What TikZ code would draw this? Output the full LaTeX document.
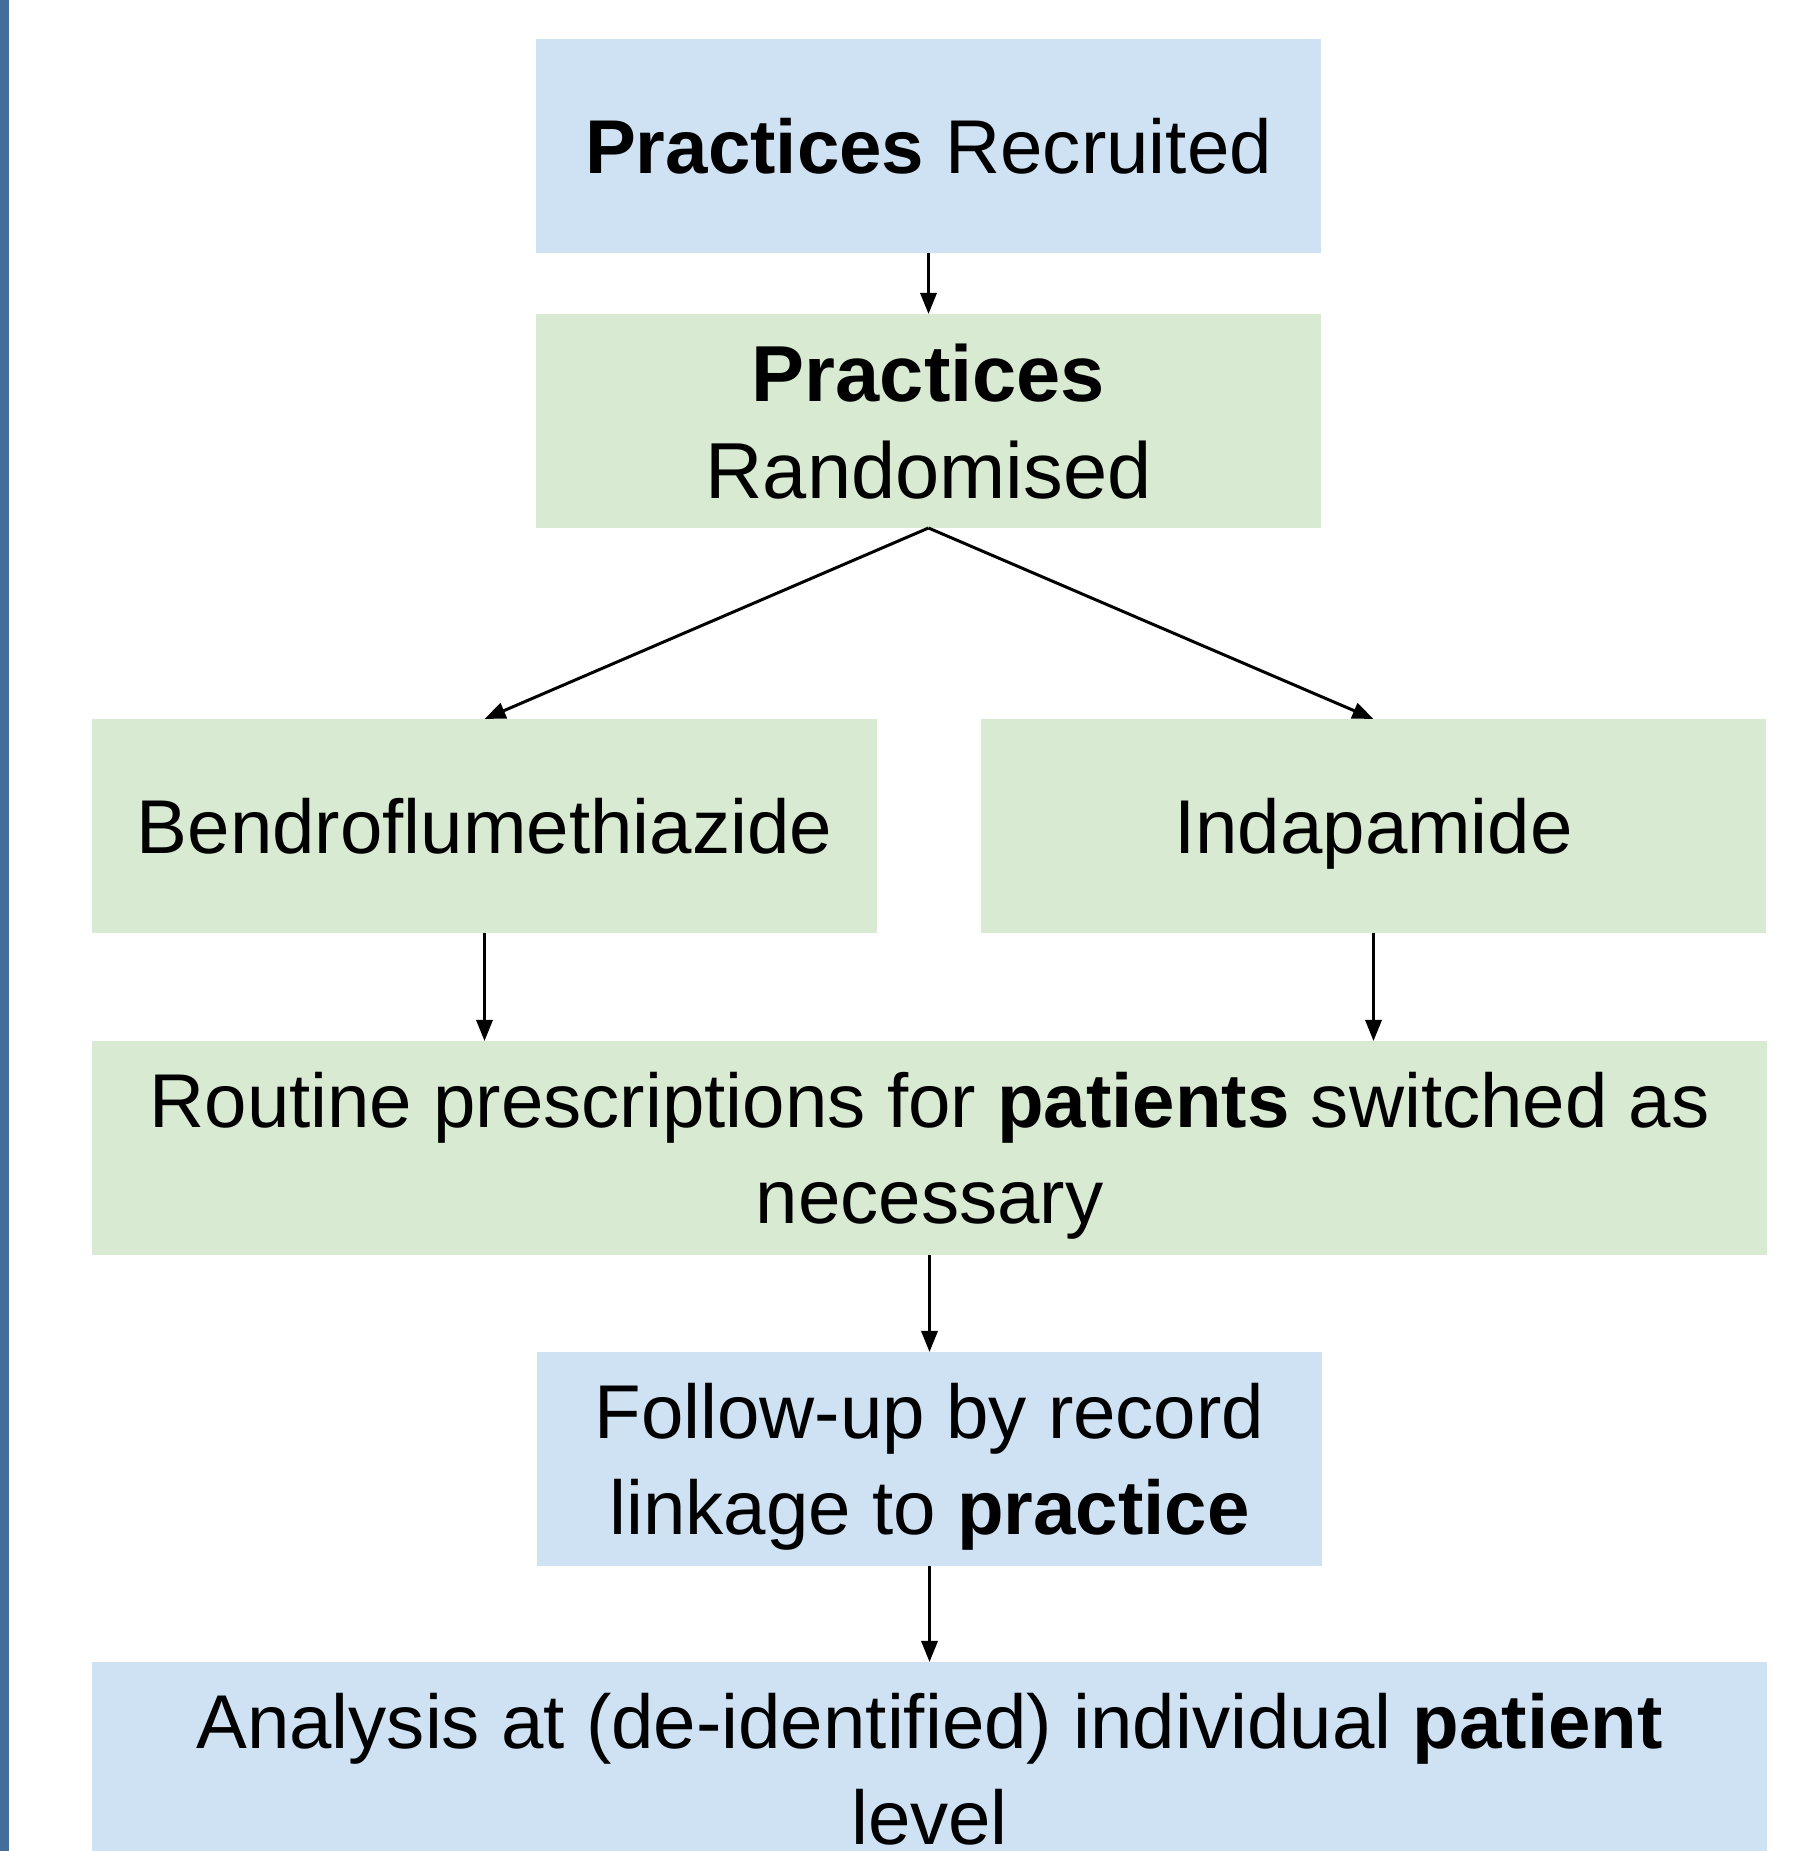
\documentclass[tikz,border=0pt]{standalone}
\usepackage{fontspec}
\setmainfont{Liberation Sans}
\usetikzlibrary{positioning,arrows.meta}

\definecolor{boxblue}{HTML}{CFE2F3}
\definecolor{boxgreen}{HTML}{D9EAD3}
\definecolor{sidebar}{RGB}{68,109,155}

\begin{document}
\begin{tikzpicture}[
	every node/.style={inner sep=0pt,outer sep=0pt,align=center,text depth=0pt,
		font=\fontsize{21.7}{27.5}\selectfont},
	bluebox/.style={fill=boxblue,minimum width=7.85cm,minimum height=2.14cm},
	greenbox/.style={fill=boxgreen,minimum width=7.85cm,minimum height=2.14cm},
	wide/.style={minimum width=16.75cm},
	link/.style={-{Triangle[length=6pt,width=4.6pt]},line width=0.85pt}]

	\useasboundingbox (0,0) rectangle (18.11,-18.51);
	\clip (0,0) rectangle (18.11,-18.51);
	\fill[sidebar] (0,0) rectangle (0.09,-18.51);

	\node[bluebox] (rec) at (9.285,-1.46) {\textbf{Practices} Recruited};
	\node[greenbox,below=0.61cm of rec,font=\fontsize{22.6}{27.6}\selectfont] (rand) {\textbf{Practices}\\Randomised};

	\node[greenbox,below=1.91cm of rand,xshift=-4.44cm] (bend) {Bendroflumethiazide};
	\node[greenbox,below=1.91cm of rand,xshift=4.45cm] (ind) {Indapamide};

	\node[greenbox,wide,below=1.08cm of bend,xshift=4.45cm] (rout)
		{Routine prescriptions for \textbf{patients} switched as\\necessary};
	\node[bluebox,below=0.97cm of rout] (fol) {Follow-up by record\\linkage to \textbf{practice}};
	\node[bluebox,wide,below=0.96cm of fol] (ana)
		{Analysis at (de-identified) individual \textbf{patient}\\level};

	\draw[link] (rec) -- (rand);
	\draw[link] (rand.south) -- (bend.north);
	\draw[link] (rand.south) -- (ind.north);
	\draw[link] (bend) -- (bend.south |- rout.north);
	\draw[link] (ind) -- (ind.south |- rout.north);
	\draw[link] (rout) -- (fol);
	\draw[link] (fol) -- (ana);

\end{tikzpicture}
\end{document}
